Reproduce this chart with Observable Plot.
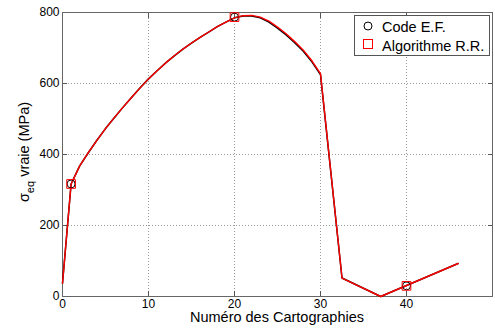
<!DOCTYPE html>
<html>
<head>
<meta charset="utf-8">
<script src="https://cdn.jsdelivr.net/npm/d3@7"></script>
<script src="https://cdn.jsdelivr.net/npm/@observablehq/plot@0.6"></script>
<style>
  html, body { margin: 0; padding: 0; background: #fff; }
  #chart svg { display: block; }
</style>
</head>
<body>
<div id="chart"></div>
<script>
// Cartography numbers (x) and equivalent true stress (MPa)
const cartoX  = [0, 1, 2, 3, 4, 5, 6, 7, 8, 9, 10, 11, 12, 13, 14, 15, 16, 17, 18, 19, 20, 21, 22, 23, 24, 25, 26, 27, 28, 29, 30, 32.5, 37, 46];
const algoRR  = [37, 317, 368, 405, 440, 473, 503, 532, 560, 587, 613, 636, 658, 678, 697, 714, 730, 745, 760, 773, 785, 791, 792, 787, 776, 759, 740, 718, 694, 664, 628, 52, 0, 93];
const codeEF  = [37, 317, 368, 405, 440, 473, 503, 532, 560, 587, 613, 636, 658, 678, 697, 714, 730, 745, 760, 773, 785, 790, 790, 785, 773, 756, 737, 715, 691, 661, 625, 52, 0, 93];

// Marker positions (plotted every N cartographies)
const markX    = [1, 20, 40];
const markCode = [317, 787, 30];
const markAlgo = [317, 787, 30];

// Axis tick values
const xTicks = [0, 10, 20, 30, 40];
const yTicks = [0, 200, 400, 600, 800];
const xGrid  = [10, 20, 30, 40];
const yGrid  = [200, 400, 600];

const seriesNames = ["Code E.F.", "Algorithme R.R."];
const xLabel = "Numéro des Cartographies";

const lineCode = cartoX.map((x, i) => ({x, y: codeEF[i]}));
const lineAlgo = cartoX.map((x, i) => ({x, y: algoRR[i]}));
const dotsCode = markX.map((x, i) => ({x, y: markCode[i]}));
const dotsAlgo = markX.map((x, i) => ({x, y: markAlgo[i]}));

const font = "'Liberation Sans', Arial, Helvetica, sans-serif";

const chart = Plot.plot({
  width: 495,
  height: 329,
  marginLeft: 62,
  marginRight: 3,
  marginTop: 12,
  marginBottom: 33,
  style: {fontFamily: font, fontSize: "12px", background: "#fff", color: "#000"},
  x: {domain: [0, 50]},
  y: {domain: [0, 800]},
  marks: [
    Plot.gridX(xGrid, {stroke: "#9a9a9a", strokeOpacity: 1, strokeDasharray: "1,2"}),
    Plot.gridY(yGrid, {stroke: "#9a9a9a", strokeOpacity: 1, strokeDasharray: "1,2"}),
    Plot.axisX({ticks: xTicks, tickSize: -5, tickPadding: 8, label: null, stroke: "#555", fill: "#000"}),
    Plot.axisX({ticks: xTicks, anchor: "top", tickSize: -5, tickFormat: () => "", label: null, stroke: "#555"}),
    Plot.axisY({ticks: yTicks, tickSize: -5, tickPadding: 8, label: null, stroke: "#555", fill: "#000"}),
    Plot.axisY({ticks: yTicks, anchor: "right", tickSize: -5, tickFormat: () => "", label: null, stroke: "#555"}),
    Plot.frame({stroke: "#666"}),
    Plot.line(lineCode, {x: "x", y: "y", stroke: "#000", strokeWidth: 1.5}),
    Plot.line(lineAlgo, {x: "x", y: "y", stroke: "#ff0000", strokeWidth: 1.4}),
    Plot.dot(dotsCode, {x: "x", y: "y", symbol: "circle", r: 4, stroke: "#000", fill: "none", strokeWidth: 1}),
    Plot.dot(dotsAlgo, {x: "x", y: "y", symbol: "square", r: 4.9, stroke: "#ff0000", fill: "none", strokeWidth: 1})
  ]
});

document.getElementById("chart").appendChild(chart);

const svg = d3.select(chart);

// X label
svg.append("text")
  .attr("x", 277).attr("y", 322)
  .attr("text-anchor", "middle")
  .style("font-family", font).style("font-size", "14.5px")
  .attr("fill", "#000")
  .text(xLabel);

// Y label with subscript
const yl = svg.append("text")
  .attr("transform", "translate(29,152) rotate(-90)")
  .attr("text-anchor", "middle")
  .style("font-family", font).style("font-size", "14.5px")
  .attr("fill", "#000");
yl.append("tspan").text("σ");
yl.append("tspan").attr("dy", 5).style("font-size", "11px").text("eq");
yl.append("tspan").attr("dy", -5).text(" vraie (MPa)");

// Legend box
const lg = svg.append("g").attr("text-anchor", "start");
lg.append("rect")
  .attr("x", 354.5).attr("y", 15.5).attr("width", 135).attr("height", 40)
  .attr("fill", "#fff").attr("stroke", "#555").attr("stroke-width", 1);
lg.append("circle").attr("cx", 368).attr("cy", 26).attr("r", 4)
  .attr("fill", "none").attr("stroke", "#000");
lg.append("rect").attr("x", 363.5).attr("y", 39.5).attr("width", 9).attr("height", 9)
  .attr("fill", "none").attr("stroke", "#ff0000");
lg.append("text").attr("x", 382).attr("y", 31.5).attr("text-anchor", "start")
  .style("font-family", font).style("font-size", "14.5px").attr("fill", "#000")
  .text(seriesNames[0]);
lg.append("text").attr("x", 382).attr("y", 50.5).attr("text-anchor", "start")
  .style("font-family", font).style("font-size", "14.5px").attr("fill", "#000")
  .text(seriesNames[1]);
</script>
</body>
</html>
